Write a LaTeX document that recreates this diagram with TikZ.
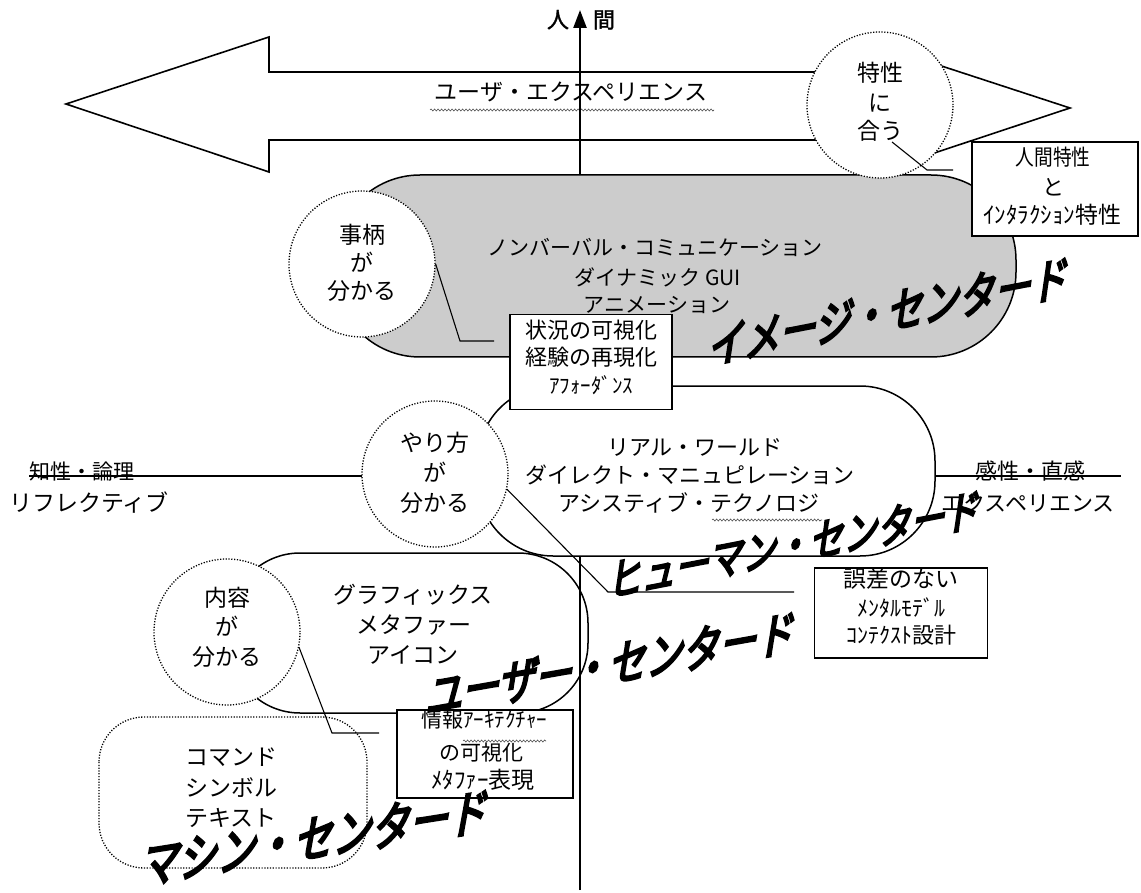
\documentclass[tikz,border=0pt]{standalone}
\usepackage{fontspec}
\newfontfamily\jp{Noto Sans CJK JP}
\newfontfamily\jpbold[FakeBold=1.5]{Noto Sans CJK JP}
\newfontfamily\jpn[FakeStretch=0.85]{Noto Sans CJK JP}
\newfontfamily\jpbig[FakeStretch=0.78,FakeSlant=0.35,FakeBold=4.5]{Noto Sans CJK JP}
\newcommand\fsz[1]{\fontsize{#1}{#1}\selectfont}
\usetikzlibrary{decorations.pathmorphing,arrows.meta}
\begin{document}
\begin{tikzpicture}[x=1pt,y=-1pt,
  lab/.style={inner sep=0pt,text height=0.88em,text depth=0.12em,font=\jp\fsz{#1}},
  labb/.style={inner sep=0pt,text height=0.88em,text depth=0.12em,font=\jpbold\fsz{#1}},
  labn/.style={inner sep=0pt,text height=0.88em,text depth=0.12em,font=\jpn\fsz{#1}},
  bigtxt/.style={inner sep=0pt,font=\jpbig\fsz{#1}},
  shapeline/.style={draw=black,line width=1.5pt,fill=white},
  circ/.style={circle,draw=black,line width=1.3pt,dash pattern=on 1.2pt off 1.6pt,fill=white,minimum size=146pt,inner sep=0pt},
  box/.style={rectangle,draw=black,line width=1.5pt,fill=white,inner sep=0pt},
  callout/.style={draw=black,line width=1.1pt},
  wavy/.style={draw=black!70,line width=0.6pt,decorate,decoration={snake,amplitude=1pt,segment length=3.5pt}}
]
\useasboundingbox (0,0) rectangle (1141,893);
\fill[white] (0,0) rectangle (1141,893);

% big double arrow
\draw[line width=1.6pt,fill=white,line join=miter]
  (66,104) -- (269,37) -- (269,72) -- (862,72) -- (862,40) -- (1070,108)
  -- (862,177) -- (862,140) -- (269,140) -- (269,172) -- cycle;
\node[lab=23] (ux) at (571,97) {ユーザ・エクスペリエンス};
\draw[wavy] (430,110) -- (714,110);

% user-centered and machine-centered shapes
\draw[shapeline,rounded corners=70pt] (230,553) rectangle (588,713);
\draw[shapeline,line width=1.3pt,dash pattern=on 1.2pt off 1.6pt,rounded corners=45pt] (99,717) rectangle (367,868);

% axes
\coordinate (vbot) at (580,890);
\coordinate (vtop) at (580,10);
\draw[line width=2.4pt,-{Triangle[length=18pt,width=13pt]}] (vbot) -- (vtop);
\node[labb=22] (hito) at (558,24) {人};
\node[labb=22] (aida) at (604,24) {間};
\node[lab=21] (chisei) at (82,476) {知性・論理};
\node[lab=23] (reflect) at (89,508) {リフレクティブ};
\node[lab=22] (kansei) at (1030,476) {感性・直感};
\node[lab=22] (experi) at (1028,508) {エクスペリエンス};
\coordinate (hl) at (29,476);
\coordinate (hr) at (1121,476);
\draw[line width=1.5pt] (hl) -- (hr);

% image-centered shape
\draw[draw=black,line width=1.5pt,fill=black!20,rounded corners=85pt] (335,175) rectangle (1016,357);
\node[lab=21] (nonverbal) at (655,252) {ノンバーバル・コミュニケーション};
\node[lab=21] (dyngui) at (658,282) {ダイナミック GUI};
\node[lab=21] (anime) at (657,309) {アニメーション};

% human-centered shape
\draw[shapeline,rounded corners=75pt] (478,386) rectangle (935,556);
\node[lab=22] (real) at (695,452) {リアル・ワールド};
\node[lab=22] (direct) at (690,480) {ダイレクト・マニュピレーション};
\node[lab=22] (assist) at (689,508) {アシスティブ・テクノロジ};
\draw[wavy] (712,520) -- (822,520);

% user shape texts
\node[lab=23] (graph) at (413,600) {グラフィックス};
\node[lab=23] (meta) at (414,630) {メタファー};
\node[lab=23] (icon) at (413,660) {アイコン};

% machine shape texts
\node[lab=23] (cmd) at (231,762) {コマンド};
\node[lab=23] (sym) at (231,793) {シンボル};
\node[lab=23] (txt) at (231,823) {テキスト};

% circles
\node[circ] (tokusei) at (880,105) {};
\node[circ] (jikei) at (362,264) {};
\node[circ] (yari) at (435,474) {};
\node[circ] (naiyo) at (227,632) {};

\node[lab=23] (t1) at (880,78) {特性};
\node[lab=23] (t2) at (880,108) {に};
\node[lab=23] (t3) at (880,136) {合う};
\node[lab=23] (j1) at (362,240) {事柄};
\node[lab=23] (j2) at (362,268) {が};
\node[lab=23] (j3) at (362,296) {分かる};
\node[lab=23] (y1) at (435,448) {やり方};
\node[lab=23] (y2) at (435,478) {が};
\node[lab=23] (y3) at (435,508) {分かる};
\node[lab=23] (n1) at (227,603) {内容};
\node[lab=23] (n2) at (227,632) {が};
\node[lab=23] (n3) at (227,662) {分かる};

% boxes
\node[box,minimum width=166pt,minimum height=94pt] (boxA) at (1055,189) {};
\node[labn=22] (a1) at (1053,162) {人間特性};
\node[lab=22] (a2) at (1053,192) {と};
\node[lab=23] (a3) at (1052,220) {ｲﾝﾀﾗｸｼｮﾝ特性};

\node[box,minimum width=162pt,minimum height=95pt] (boxB) at (591,362) {};
\node[lab=22] (b1) at (591,335) {状況の可視化};
\node[lab=22] (b2) at (591,362) {経験の再現化};
\node[lab=21] (b3) at (591,390) {ｱﾌｫｰﾀﾞﾝｽ};

\node[box,minimum width=173pt,minimum height=90pt] (boxC) at (901,613) {};
\node[lab=23] (c1) at (901,584) {誤差のない};
\node[lab=22] (c2) at (901,613) {ﾒﾝﾀﾙﾓﾃﾞﾙ};
\node[lab=22] (c3) at (901,640) {ｺﾝﾃｸｽﾄ設計};

\node[box,minimum width=176pt,minimum height=88pt] (boxD) at (485,754) {};
\node[lab=21] (d1) at (484,724) {情報ｱｰｷﾃｸﾁｬｰ};
\draw[wavy] (463,741) -- (546,741);
\node[lab=21] (d2) at (481,757) {の可視化};
\node[lab=23] (d3) at (483,785) {ﾒﾀﾌｧｰ表現};

% callout lines
\coordinate (tk0) at (892,142);
\coordinate (tk1) at (927,170);
\coordinate (tk2) at (953,170);
\draw[callout] (tk0) -- (tk1) -- (tk2);
\coordinate (jk1) at (460,341);
\coordinate (jk2) at (494,341);
\draw[callout] (jikei.east) -- (jk1) -- (jk2);
\coordinate (yr1) at (608,592);
\coordinate (yr2) at (794,592);
\draw[callout] (yari.-12) -- (yr1) -- (yr2);
\coordinate (ny1) at (332,733);
\coordinate (ny2) at (379,733);
\draw[callout] (naiyo.-12) -- (ny1) -- (ny2);

% big slanted titles
\node[bigtxt=47,rotate=11] (imgc) at (884,312) {イメージ・センタード};
\node[bigtxt=44,rotate=11] (humc) at (790,545) {ヒューマン・センタード};
\node[bigtxt=48,rotate=10] (usrc) at (606,665) {ユーザー・センタード};
\node[bigtxt=50,rotate=9] (macc) at (310,838) {マシン・センタード};
\end{tikzpicture}
\end{document}
